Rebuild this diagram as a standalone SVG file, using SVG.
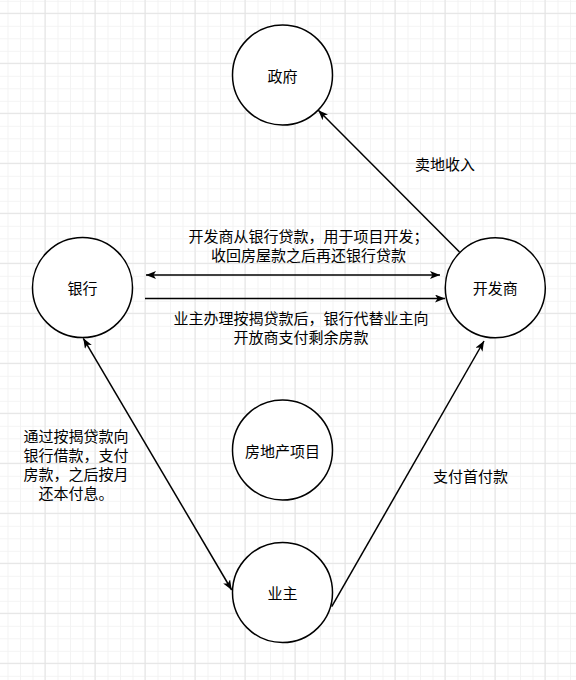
<svg xmlns="http://www.w3.org/2000/svg" width="576" height="680" viewBox="0 0 576 680">
<defs>
<pattern id="minor" patternUnits="userSpaceOnUse" x="7.5" y="0.8" width="12.5" height="12.5">
<path d="M0,0.5 H12.5 M0.5,0 V12.5" fill="none" stroke="#f3f3f3" stroke-width="1"/>
</pattern>
<pattern id="major" patternUnits="userSpaceOnUse" x="44.5" y="12.8" width="50" height="50">
<path d="M0,0.5 H50 M0.5,0 V50" fill="none" stroke="#e3e3e3" stroke-width="1"/>
</pattern>
<marker id="arr" viewBox="0 0 10 8" markerWidth="10" markerHeight="8" refX="10" refY="4" orient="auto-start-reverse" markerUnits="userSpaceOnUse">
<path d="M0,0 L10,4 L0,8 L2.5,4 Z" fill="#000"/>
</marker>
</defs>
<style>
.node circle{fill:#fff;stroke:#000;stroke-width:1.5}
text{font-family:"Noto Sans CJK SC","Liberation Sans",sans-serif;font-size:15px;fill:#000}
.c{text-anchor:middle;dominant-baseline:central}
.edge{fill:none;stroke:#000;stroke-width:1.5}
</style>
<rect width="576" height="680" fill="#fff"/>
<rect width="576" height="680" fill="url(#minor)"/>
<rect width="576" height="680" fill="url(#major)"/>
<g id="connectors">
<path class="edge" d="M459.5,252 L318.3,110.3" marker-end="url(#arr)"/>
<path class="edge" d="M146,275 L440,275" marker-start="url(#arr)" marker-end="url(#arr)"/>
<path class="edge" d="M145,298.5 L445,298.5" marker-end="url(#arr)"/>
<path class="edge" d="M83.3,338.3 L231.7,590" marker-start="url(#arr)" marker-end="url(#arr)"/>
<path class="edge" d="M331.7,606.7 L484,341" marker-end="url(#arr)"/>
</g>
<g id="labels">
<text class="c" x="445" y="163">卖地收入</text>
<text class="c"><tspan x="308.5" y="234.5">开发商从银行贷款，用于项目开发；</tspan><tspan x="308.5" y="253.5">收回房屋款之后再还银行贷款</tspan></text>
<text class="c"><tspan x="301" y="316.5">业主办理按揭贷款后，银行代替业主向</tspan><tspan x="301" y="335.5">开放商支付剩余房款</tspan></text>
<text class="c"><tspan x="76" y="435">通过按揭贷款向</tspan><tspan x="76" y="454">银行借款，支付</tspan><tspan x="76" y="473">房款，之后按月</tspan><tspan x="76" y="492">还本付息。</tspan></text>
<text class="c" x="470.5" y="475">支付首付款</text>
</g>
<g id="zhengfu" class="node"><circle cx="282.5" cy="75" r="50"/><text class="c" x="282.5" y="75">政府</text></g>
<g id="yinhang" class="node"><circle cx="82.5" cy="287.5" r="50"/><text class="c" x="82.5" y="287.5">银行</text></g>
<g id="kaifashang" class="node"><circle cx="495.3" cy="287.8" r="50"/><text class="c" x="495.3" y="287.8">开发商</text></g>
<g id="fangdichan" class="node"><circle cx="282.5" cy="450" r="50"/><text class="c" x="282.5" y="450">房地产项目</text></g>
<g id="yezhu" class="node"><circle cx="282.5" cy="592.5" r="50"/><text class="c" x="282.5" y="592.5">业主</text></g>
</svg>
